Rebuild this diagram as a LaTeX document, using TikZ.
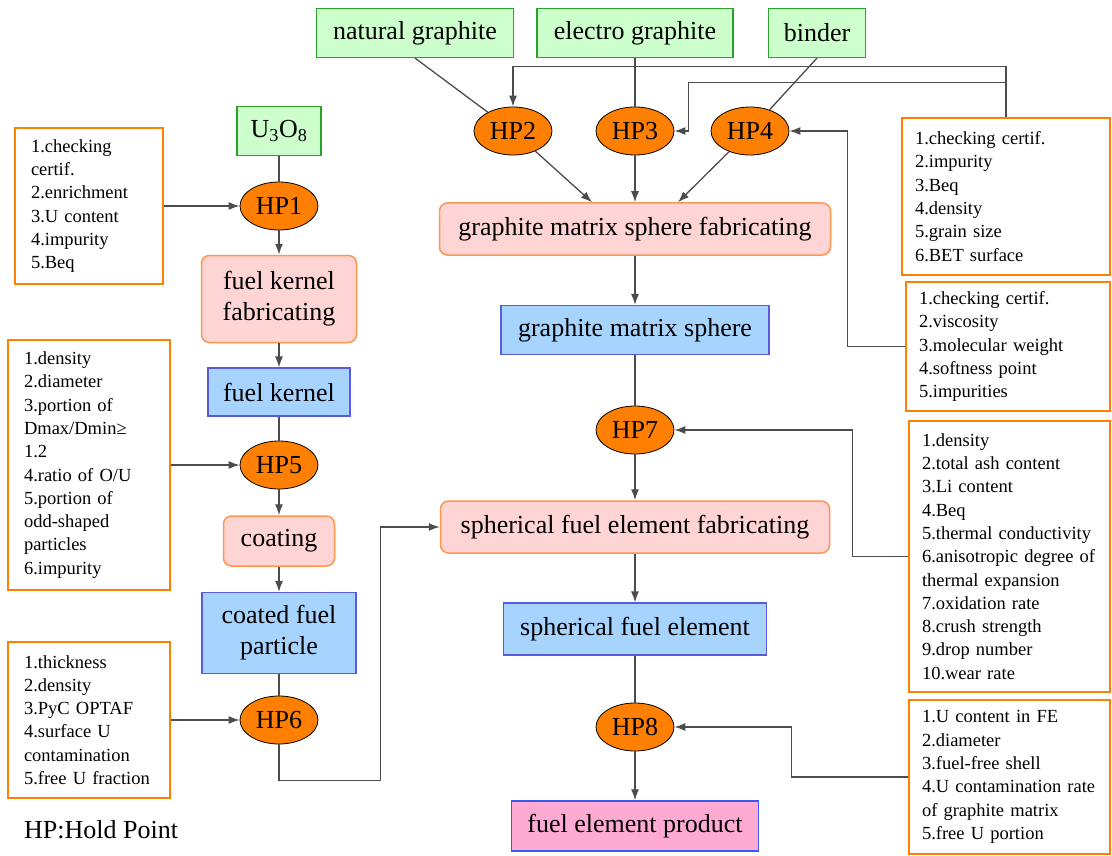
\documentclass[tikz,border=0pt]{standalone}
\usepackage{fontspec}
\setmainfont{Liberation Serif}
\usepackage{tikz}
\usetikzlibrary{
    arrows.meta,
    shapes,
    calc,
    positioning
}
\definecolor{hpor}{RGB}{255,128,0}
\definecolor{rawfill}{RGB}{204,255,204}
\definecolor{rawdr}{RGB}{40,165,40}
\definecolor{procfill}{RGB}{255,212,212}
\definecolor{procdr}{RGB}{255,150,80}
\definecolor{prodfill}{RGB}{166,212,255}
\definecolor{proddr}{RGB}{90,90,220}
\definecolor{finfill}{RGB}{255,170,210}
\definecolor{findr}{RGB}{60,90,240}
\newcommand{\boxfont}{\fontsize{26}{31}\selectfont}
\newcommand{\chkfont}{\fontsize{18.5}{23.3}\selectfont}
\tikzset{hp/.style={ellipse, draw=black, line width=0.8pt, fill=hpor, minimum width=78pt, minimum height=48pt, inner sep=0pt, font=\boxfont}}
\tikzset{raw/.style={draw=rawdr, fill=rawfill, line width=1.2pt, minimum height=49pt, inner sep=0pt, font=\boxfont}}
\tikzset{proc/.style={draw=procdr, fill=procfill, line width=1.5pt, rounded corners=8pt, inner sep=0pt, align=center, font=\boxfont}}
\tikzset{prod/.style={draw=proddr, fill=prodfill, line width=1.2pt, inner sep=0pt, align=center, font=\boxfont}}
\tikzset{fin/.style={draw=findr, fill=finfill, line width=1.5pt, inner sep=0pt, font=\boxfont}}
\tikzset{chk/.style={draw=hpor, line width=2.5pt, fill=white, align=left, inner ysep=0pt, font=\chkfont}}
\tikzset{ln/.style={draw=black!70, line width=1.3pt}}
\tikzset{ar/.style={ln, -{Latex[length=11pt, width=8pt]}}}

\begin{document}
\begin{tikzpicture}[x=1pt, y=-1pt]
                        \useasboundingbox (0,0) rectangle (1112,856);
                        \node[raw, minimum width=84pt] (u3o8) at (279,131) {U\textsubscript{3}O\textsubscript{8}};
                        \node[hp] (hp1) at (279,206) {HP1};
                        \node[proc, minimum width=155pt, minimum height=87pt] (fkf) at (279,299) {fuel kernel\\fabricating};
                        \node[prod, minimum width=142pt, minimum height=48pt] (fk) at (279,392) {fuel kernel};
                        \node[hp] (hp5) at (279,465) {HP5};
                        \node[proc, minimum width=111pt, minimum height=50pt] (coat) at (279,541) {coating};
                        \node[prod, minimum width=154pt, minimum height=81pt] (cfp) at (279,633) {coated fuel\\particle};
                        \node[hp] (hp6) at (279,720) {HP6};

                        \node[raw, minimum width=197pt] (ng) at (415,33) {natural graphite};
                        \node[raw, minimum width=196pt] (eg) at (635,33) {electro graphite};
                        \node[raw, minimum width=97pt] (bd) at (817,33) {binder};
                        \node[hp] (hp2) at (513,131) {HP2};
                        \node[hp] (hp3) at (635,131) {HP3};
                        \node[hp] (hp4) at (750,131) {HP4};
                        \node[proc, minimum width=391pt, minimum height=52pt] (gmsf) at (635,229) {graphite matrix sphere fabricating};
                        \node[prod, minimum width=268pt, minimum height=49pt] (gms) at (635,330) {graphite matrix sphere};
                        \node[hp] (hp7) at (635,430) {HP7};
                        \node[proc, minimum width=389pt, minimum height=52pt] (sfef) at (635,527) {spherical fuel element fabricating};
                        \node[prod, minimum width=263pt, minimum height=52pt] (sfe) at (635,629) {spherical fuel element};
                        \node[hp] (hp8) at (635,727) {HP8};
                        \node[fin, minimum width=247pt, minimum height=50pt] (fep) at (635,826) {fuel element product};

                        \node[chk, inner xsep=16pt, text width=116pt, minimum height=156pt] (c1) at (89,206) {1.checking\\certif.\\2.enrichment\\3.U content\\4.impurity\\5.Beq};
                        \node[chk, inner xsep=16pt, text width=130pt, minimum height=250pt] (c5) at (89,465) {1.density\\2.diameter\\3.portion of\\Dmax/Dmin≥\\1.2\\4.ratio of O/U\\5.portion of\\odd-shaped\\particles\\6.impurity};
                        \node[chk, inner xsep=16pt, text width=130pt, minimum height=156pt] (c6) at (89,720) {1.thickness\\2.density\\3.PyC OPTAF\\4.surface U\\contamination\\5.free U fraction};
                        \node[chk, inner xsep=13pt, text width=182pt, minimum height=157pt] (r1) at (1006,196.5) {1.checking certif.\\2.impurity\\3.Beq\\4.density\\5.grain size\\6.BET surface};
                        \node[chk, inner xsep=13pt, text width=178pt, minimum height=129pt] (r2) at (1008,346.5) {1.checking certif.\\2.viscosity\\3.molecular weight\\4.softness point\\5.impurities};
                        \node[chk, inner xsep=13pt, text width=175pt, minimum height=271pt] (r3) at (1009.5,556.5) {1.density\\2.total ash content\\3.Li content\\4.Beq\\5.thermal conductivity\\6.anisotropic degree of\\thermal expansion\\7.oxidation rate\\8.crush strength\\9.drop number\\10.wear rate};
                        \node[chk, inner xsep=13pt, text width=175pt, minimum height=154pt] (r4) at (1009.5,777) {1.U content in FE\\2.diameter\\3.fuel-free shell\\4.U contamination rate\\of graphite matrix\\5.free U portion};

                        \node[anchor=west, font=\boxfont, inner sep=0pt] (hold) at (24,830) {HP:Hold Point};

                        \draw[ln] (u3o8) -- (hp1);
                        \draw[ar] (hp1) -- (fkf);
                        \draw[ar] (fkf) -- (fk);
                        \draw[ln] (fk) -- (hp5);
                        \draw[ar] (hp5) -- (coat);
                        \draw[ar] (coat) -- (cfp);
                        \draw[ln] (cfp) -- (hp6);
                        \draw[ar] (c1) -- (hp1);
                        \draw[ar] (c5) -- (hp5);
                        \draw[ar] (c6) -- (hp6);
                        \draw[ar] (hp6.south) -- ++(0,36) -| ([xshift=-59pt]sfef.west) -- (sfef.west);

                        \draw[ln] (ng.south) -- (hp2);
                        \draw[ln] (eg) -- (hp3);
                        \draw[ln] (bd.south) -- (hp4);
                        \draw[ar] (hp2) -- ([xshift=-43pt]gmsf.north);
                        \draw[ar] (hp3) -- (gmsf);
                        \draw[ar] (hp4) -- ([xshift=43pt]gmsf.north);
                        \draw[ar] (gmsf) -- (gms);
                        \draw[ln] (gms) -- (hp7);
                        \draw[ar] (hp7) -- (sfef);
                        \draw[ar] (sfef) -- (sfe);
                        \draw[ln] (sfe) -- (hp8);
                        \draw[ar] (hp8) -- (fep);

                        \draw[ar] (r1.north) -- ++(0,-50) -| (hp2.north);
                        \draw[ar] (r1.north) ++(0,-34) -| ([xshift=14pt]hp3.east) -- (hp3.east);
                        \draw[ar] (r2.west) -- ++(-57,0) |- (hp4.east);
                        \draw[ar] (r3.west) -- ++(-55,0) |- (hp7.east);
                        \draw[ar] (r4.west) -- ++(-116,0) |- (hp8.east);
                    \end{tikzpicture}
\end{document}
